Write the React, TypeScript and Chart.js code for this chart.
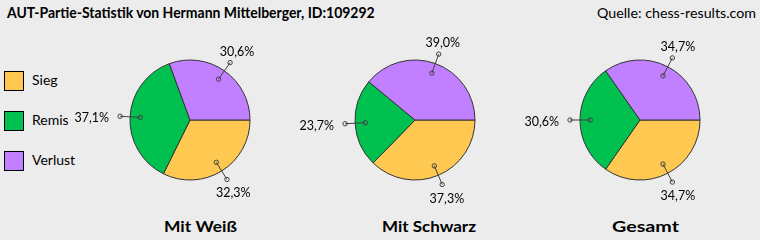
import React, { useEffect, useRef } from "react";
import { Chart, registerables } from "chart.js";
Chart.register(...registerables);

const categories = ["Sieg", "Remis", "Verlust"];
const sliceColors = ["#FFC850", "#00C050", "#C080FF"];
const pieTitles = ["Mit Weiß", "Mit Schwarz", "Gesamt"];
const withWhite = [32.3, 37.1, 30.6];
const withBlack = [37.3, 23.7, 39.0];
const overall = [34.7, 30.6, 34.7];
const titleText = "AUT-Partie-Statistik von Hermann Mittelberger, ID:109292";
const sourceText = "Quelle: chess-results.com";

const series = [withWhite, withBlack, overall];

// layout
const FONT = "Lato";
const pieCentersX = [190, 415, 640];
const pieCY = 120;
const CANVAS_W = 260;
const CANVAS_H = 240;
const pieTitleBoxes = [
  { left: 164, width: 73 },
  { left: 382, width: 94 },
  { left: 612, width: 67 },
];

let measureCtx: CanvasRenderingContext2D | null = null;
function measure(text: string, font: string) {
  if (!measureCtx) measureCtx = document.createElement("canvas").getContext("2d");
  measureCtx!.font = font;
  return measureCtx!.measureText(text).width;
}

function FitText(props: { text: string; left: number; cy: number; width: number; size: number; weight: number }) {
  const { text, left, cy, width, size, weight } = props;
  const w = measure(text, `${weight} ${size}px ${FONT}`);
  const sx = width / w;
  return (
    <div
      style={{
        position: "absolute",
        left,
        top: cy - 0.628 * size,
        fontFamily: FONT,
        fontSize: size,
        fontWeight: weight,
        lineHeight: `${size * 1.2}px`,
        whiteSpace: "nowrap",
        color: "#000",
        transform: `scaleX(${sx})`,
        transformOrigin: "left center",
      }}
    >
      {text}
    </div>
  );
}

const leaderPlugin = {
  id: "leaderLabels",
  afterDatasetsDraw(chart: any) {
    const ctx = chart.ctx;
    const meta = chart.getDatasetMeta(0);
    const data = chart.data.datasets[0].data as number[];
    ctx.save();
    meta.data.forEach((arc: any, i: number) => {
      const p = arc.getProps(["x", "y", "startAngle", "endAngle", "outerRadius"], true);
      const mid = (p.startAngle + p.endAngle) / 2;
      const c = Math.cos(mid);
      const s = Math.sin(mid);
      const r1 = p.outerRadius * 0.83;
      const r2 = p.outerRadius + 10;
      const x1 = p.x + r1 * c, y1 = p.y + r1 * s;
      const x2 = p.x + r2 * c, y2 = p.y + r2 * s;
      ctx.strokeStyle = "#404040";
      ctx.lineWidth = 1;
      ctx.beginPath();
      ctx.moveTo(x1, y1);
      ctx.lineTo(x2, y2);
      ctx.stroke();
      [[x1, y1], [x2, y2]].forEach(([x, y]) => {
        ctx.beginPath();
        ctx.arc(x, y, 2.2, 0, Math.PI * 2);
        ctx.stroke();
      });
      const label = data[i].toFixed(1).replace(".", ",") + "%";
      const size = 12.5;
      ctx.font = `400 ${size}px ${FONT}`;
      ctx.fillStyle = "#000";
      ctx.textBaseline = "alphabetic";
      const capHalf = 0.36 * size;
      if (Math.abs(c) > 0.7) {
        ctx.textAlign = c < 0 ? "right" : "left";
        const tx = c < 0 ? x2 - 11 : x2 + 11;
        ctx.fillText(label, tx, y2 + 1.5 + capHalf);
      } else {
        ctx.textAlign = "center";
        const tx = x2 + 12 * c;
        const ty = s > 0 ? y2 + 13.5 : y2 - 11.5;
        ctx.fillText(label, tx, ty + capHalf);
      }
    });
    ctx.restore();
  },
};

function PieCanvas(props: { values: number[]; cx: number }) {
  const ref = useRef<HTMLCanvasElement | null>(null);
  useEffect(() => {
    if (!ref.current) return;
    const padX = CANVAS_W / 2 - 60.5;
    const padY = pieCY - 60.5;
    const chart = new Chart(ref.current, {
      type: "pie",
      data: {
        labels: categories,
        datasets: [
          {
            data: props.values,
            backgroundColor: sliceColors,
            borderColor: "#333333",
            borderWidth: 1,
          },
        ],
      },
      options: {
        responsive: false,
        animation: false,
        rotation: 90,
        layout: { padding: { left: padX, right: padX, top: padY, bottom: CANVAS_H - padY - 121 } },
        plugins: { legend: { display: false }, tooltip: { enabled: false }, title: { display: false } },
        events: [],
      },
      plugins: [leaderPlugin],
    });
    return () => chart.destroy();
  }, []);
  return (
    <canvas
      ref={ref}
      width={CANVAS_W}
      height={CANVAS_H}
      style={{ position: "absolute", left: props.cx - CANVAS_W / 2, top: 0, width: CANVAS_W, height: CANVAS_H }}
    />
  );
}

export default function App() {
  useEffect(() => {
    document.body.style.margin = "0";
  }, []);
  return (
    <div
      style={{
        position: "fixed",
        left: 0,
        top: 0,
        width: 760,
        height: 240,
        background: "#ECECEC",
        overflow: "hidden",
        fontFamily: FONT,
      }}
    >
      <FitText text={titleText} left={7} cy={12.8} width={368} size={15} weight={700} />
      <FitText text={sourceText} left={597} cy={14} width={159} size={14} weight={400} />
      {categories.map((c, i) => (
        <React.Fragment key={c}>
          <div
            style={{
              position: "absolute",
              left: 4,
              top: 71 + i * 40,
              width: 20,
              height: 20,
              boxSizing: "border-box",
              border: "1px solid #000",
              background: sliceColors[i],
            }}
          />
          <div
            style={{
              position: "absolute",
              left: 32,
              top: 81 + i * 40 - 0.628 * 14,
              fontSize: 14,
              lineHeight: "16.8px",
              whiteSpace: "nowrap",
              color: "#000",
            }}
          >
            {c}
          </div>
        </React.Fragment>
      ))}
      {pieTitles.map((t, i) => (
        <FitText key={t} text={t} left={pieTitleBoxes[i].left} cy={226} width={pieTitleBoxes[i].width} size={15} weight={700} />
      ))}
      {series.map((vals, i) => (
        <PieCanvas key={i} values={vals} cx={pieCentersX[i]} />
      ))}
    </div>
  );
}
